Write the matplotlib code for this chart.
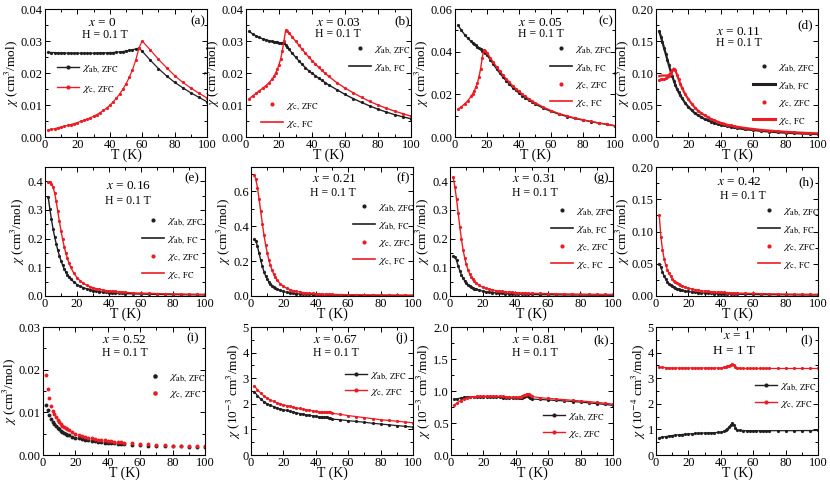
import matplotlib
matplotlib.use("Agg")
import matplotlib.pyplot as plt
from matplotlib.lines import Line2D
from matplotlib.ticker import MultipleLocator, FormatStrFormatter

plt.rcParams['font.family'] = ['Liberation Serif', 'DejaVu Serif']
plt.rcParams['mathtext.fontset'] = 'stix'

BLACK = '#231f20'
RED = '#ec1c24'

# ---- data (T in K) ----
T_a = [2, 4, 6, 8, 10, 12, 14, 16, 18, 20,
       22, 24, 26, 28, 30, 32, 34, 36, 38, 40,
       42, 44, 46, 48, 50, 52, 54, 56, 58, 60,
       65, 70, 75, 80, 85, 90, 95, 100]
chi_ab_a = [0.0265, 0.0264, 0.0264, 0.0263, 0.0263, 0.0263, 0.0262, 0.0262, 0.0262, 0.0262,
            0.0262, 0.0262, 0.0262, 0.0262, 0.0262, 0.0262, 0.0263, 0.0263, 0.0263, 0.0264,
            0.0264, 0.0265, 0.0266, 0.0267, 0.0269, 0.0271, 0.0273, 0.0275, 0.0278, 0.0268,
            0.0240, 0.0214, 0.0191, 0.0171, 0.0154, 0.0138, 0.0124, 0.0110]
chi_c_a = [0.0022, 0.0024, 0.0026, 0.0029, 0.0031, 0.0034, 0.0036, 0.0039, 0.0042, 0.0045,
           0.0049, 0.0052, 0.0056, 0.0060, 0.0065, 0.0070, 0.0076, 0.0083, 0.0090, 0.0099,
           0.0109, 0.0121, 0.0134, 0.0149, 0.0166, 0.0186, 0.0210, 0.0240, 0.0278, 0.0300,
           0.0272, 0.0243, 0.0217, 0.0192, 0.0171, 0.0153, 0.0137, 0.0122]

T_b = [2, 4, 6, 8, 10, 12, 14, 16,
       17, 18, 19, 20, 21, 22, 23, 24, 25, 26,
       28, 30, 32, 34, 36, 38, 40, 42, 44, 46, 48, 50,
       55, 60, 65, 70, 75, 80, 85, 90, 95, 100]
chi_ab_b = [0.0330, 0.0322, 0.0316, 0.0311, 0.0307, 0.0304, 0.0301, 0.0299,
            0.0298, 0.0297, 0.0296, 0.0295, 0.0294, 0.0294, 0.0293, 0.0288, 0.0281, 0.0274,
            0.0262, 0.0250, 0.0238, 0.0227, 0.0217, 0.0207, 0.0199, 0.0192, 0.0184, 0.0177, 0.0170, 0.0163,
            0.0148, 0.0133, 0.0120, 0.0108, 0.0097, 0.0087, 0.0078, 0.0070, 0.0063, 0.0057]
chi_c_b = [0.0120, 0.0128, 0.0136, 0.0144, 0.0152, 0.0160, 0.0170, 0.0182,
           0.0190, 0.0200, 0.0212, 0.0226, 0.0244, 0.0268, 0.0300, 0.0333, 0.0330, 0.0325,
           0.0313, 0.0300, 0.0287, 0.0274, 0.0262, 0.0250, 0.0239, 0.0228, 0.0218, 0.0208, 0.0199, 0.0190,
           0.0170, 0.0153, 0.0138, 0.0124, 0.0111, 0.0100, 0.0090, 0.0081, 0.0073, 0.0065]

T_c = [2, 4, 6, 8, 10,
       11, 12, 13, 14, 15, 16, 17, 18, 19, 20,
       22, 24, 26, 28, 30, 32, 34, 36, 38, 40, 42, 44, 46, 48, 50,
       55, 60, 65, 70, 75, 80, 85, 90, 95, 100]
chi_ab_c = [0.0523, 0.0500, 0.0480, 0.0463, 0.0448,
            0.0441, 0.0435, 0.0429, 0.0423, 0.0417, 0.0411, 0.0405, 0.0400, 0.0393, 0.0385,
            0.0362, 0.0340, 0.0319, 0.0299, 0.0280, 0.0263, 0.0247, 0.0232, 0.0219, 0.0206,
            0.0194, 0.0183, 0.0173, 0.0164, 0.0155,
            0.0136, 0.0120, 0.0107, 0.0096, 0.0087, 0.0079, 0.0072, 0.0065, 0.0059, 0.0052]
chi_c_c = [0.0130, 0.0142, 0.0155, 0.0170, 0.0190,
           0.0202, 0.0216, 0.0233, 0.0254, 0.0282, 0.0320, 0.0370, 0.0410, 0.0405, 0.0395,
           0.0372, 0.0350, 0.0329, 0.0309, 0.0290, 0.0273, 0.0257, 0.0241, 0.0227, 0.0214,
           0.0202, 0.0190, 0.0180, 0.0170, 0.0161,
           0.0141, 0.0124, 0.0110, 0.0099, 0.0089, 0.0081, 0.0073, 0.0066, 0.0060, 0.0053]

# shared temperature grid for panels (d)-(i)
T_low = [2, 3, 4, 5, 6, 7, 8, 9, 10, 11, 12, 13, 14, 15, 16,
         18, 20, 22, 24, 26, 28, 30, 32, 34, 36, 38, 40, 42, 44, 46, 48, 50,
         55, 60, 65, 70, 75, 80, 85, 90, 95, 100]
chi_ab_d = [0.165, 0.157, 0.148, 0.139, 0.130, 0.121, 0.112, 0.103, 0.095, 0.088, 0.081, 0.075, 0.070, 0.065, 0.061,
            0.053, 0.047, 0.042, 0.037, 0.034, 0.031, 0.028, 0.026, 0.024, 0.022, 0.020, 0.019, 0.018, 0.017, 0.016, 0.015, 0.014,
            0.012, 0.011, 0.0095, 0.0085, 0.0075, 0.0068, 0.0061, 0.0055, 0.0050, 0.0046]
chi_c_d = [0.089, 0.090, 0.091, 0.091, 0.092, 0.093, 0.095, 0.099, 0.104, 0.107, 0.104, 0.097, 0.090, 0.083, 0.077,
           0.067, 0.059, 0.052, 0.046, 0.041, 0.037, 0.034, 0.031, 0.028, 0.026, 0.024, 0.022, 0.021, 0.019, 0.018, 0.017, 0.016,
           0.014, 0.0125, 0.011, 0.010, 0.009, 0.0082, 0.0074, 0.0067, 0.0061, 0.0056]
chi_c_fc_d = [0.095, 0.096, 0.096, 0.096, 0.096, 0.096, 0.097, 0.100, 0.104, 0.107, 0.104, 0.097, 0.090, 0.083, 0.077,
              0.067, 0.059, 0.052, 0.046, 0.041, 0.037, 0.034, 0.031, 0.028, 0.026, 0.024, 0.022, 0.021, 0.019, 0.018, 0.017, 0.016,
              0.014, 0.0125, 0.011, 0.010, 0.009, 0.0082, 0.0074, 0.0067, 0.0061, 0.0056]
chi_ab_e = [0.345, 0.305, 0.268, 0.235, 0.207, 0.182, 0.160, 0.140, 0.123, 0.108, 0.095, 0.084, 0.075, 0.067, 0.060,
            0.049, 0.040, 0.034, 0.029, 0.025, 0.022, 0.019, 0.017, 0.015, 0.014, 0.013, 0.012, 0.011, 0.0100, 0.0095, 0.0090, 0.0085,
            0.0075, 0.0068, 0.0062, 0.0057, 0.0053, 0.0049, 0.0046, 0.0043, 0.0041, 0.0039]
chi_c_e = [0.398, 0.397, 0.392, 0.380, 0.360, 0.330, 0.295, 0.260, 0.228, 0.198, 0.172, 0.150, 0.131, 0.115, 0.101,
           0.080, 0.064, 0.053, 0.044, 0.038, 0.033, 0.029, 0.026, 0.023, 0.021, 0.019, 0.018, 0.017, 0.016, 0.015, 0.014, 0.013,
           0.011, 0.010, 0.0092, 0.0085, 0.0079, 0.0074, 0.0069, 0.0065, 0.0061, 0.0058]
chi_ab_f = [0.325, 0.315, 0.285, 0.245, 0.205, 0.170, 0.140, 0.116, 0.097, 0.082, 0.070, 0.060, 0.052, 0.045, 0.040,
            0.032, 0.026, 0.021, 0.018, 0.015, 0.013, 0.012, 0.010, 0.0095, 0.0088, 0.0082, 0.0076, 0.0071, 0.0067, 0.0063, 0.0060, 0.0057,
            0.0050, 0.0045, 0.0041, 0.0038, 0.0035, 0.0033, 0.0031, 0.0029, 0.0028, 0.0027]
chi_c_f = [0.695, 0.670, 0.620, 0.555, 0.485, 0.415, 0.350, 0.295, 0.248, 0.208, 0.175, 0.148, 0.126, 0.108, 0.093,
           0.071, 0.056, 0.045, 0.037, 0.031, 0.027, 0.023, 0.020, 0.018, 0.016, 0.015, 0.013, 0.012, 0.011, 0.011, 0.010, 0.0095,
           0.0085, 0.0075, 0.0070, 0.0065, 0.0060, 0.0055, 0.0052, 0.0050, 0.0048, 0.0045]
chi_ab_g = [0.138, 0.136, 0.124, 0.105, 0.088, 0.074, 0.062, 0.053, 0.046, 0.040, 0.036, 0.032, 0.029, 0.026, 0.024,
            0.020, 0.017, 0.015, 0.013, 0.012, 0.011, 0.010, 0.0092, 0.0085, 0.0079, 0.0074, 0.0070, 0.0066, 0.0062, 0.0059, 0.0056, 0.0054,
            0.0049, 0.0045, 0.0042, 0.0039, 0.0037, 0.0035, 0.0033, 0.0031, 0.0030, 0.0029]
chi_c_g = [0.414, 0.380, 0.338, 0.290, 0.242, 0.198, 0.162, 0.133, 0.110, 0.092, 0.078, 0.067, 0.058, 0.051, 0.045,
           0.037, 0.031, 0.027, 0.024, 0.021, 0.019, 0.017, 0.016, 0.015, 0.014, 0.013, 0.012, 0.0115, 0.011, 0.0105, 0.010, 0.0095,
           0.0088, 0.0082, 0.0077, 0.0072, 0.0068, 0.0064, 0.0061, 0.0058, 0.0055, 0.0053]
chi_ab_h = [0.050, 0.045, 0.037, 0.031, 0.026, 0.022, 0.019, 0.017, 0.015, 0.0135, 0.0122, 0.0110, 0.0102, 0.0095, 0.0088,
            0.0078, 0.0070, 0.0063, 0.0058, 0.0053, 0.0049, 0.0046, 0.0043, 0.0040, 0.0038, 0.0036, 0.0034, 0.0033, 0.0031, 0.0030, 0.0029, 0.0028,
            0.0026, 0.0024, 0.0022, 0.0021, 0.0020, 0.0019, 0.0018, 0.0017, 0.0017, 0.0016]
chi_c_h = [0.125, 0.092, 0.072, 0.058, 0.048, 0.041, 0.035, 0.031, 0.027, 0.024, 0.022, 0.020, 0.018, 0.017, 0.016,
           0.014, 0.012, 0.011, 0.0098, 0.0090, 0.0083, 0.0077, 0.0072, 0.0068, 0.0064, 0.0060, 0.0057, 0.0055, 0.0052, 0.0050, 0.0048, 0.0046,
           0.0042, 0.0039, 0.0036, 0.0034, 0.0032, 0.0030, 0.0029, 0.0027, 0.0026, 0.0025]
chi_ab_i = [0.0118, 0.0105, 0.0094, 0.0085, 0.0078, 0.0072, 0.0067, 0.0063, 0.0060, 0.0057, 0.0054, 0.0052, 0.0050, 0.0048, 0.0046,
            0.0043, 0.0041, 0.0039, 0.0037, 0.0035, 0.0034, 0.0033, 0.0032, 0.0031, 0.0030, 0.0029, 0.0028, 0.0028, 0.0027, 0.0026, 0.0026, 0.0025,
            0.0024, 0.0023, 0.0022, 0.0022, 0.0021, 0.0020, 0.0020, 0.0019, 0.0019, 0.0018]
chi_c_i = [0.0187, 0.0155, 0.0133, 0.0116, 0.0104, 0.0095, 0.0088, 0.0082, 0.0077, 0.0073, 0.0069, 0.0066, 0.0063, 0.0060, 0.0058,
           0.0054, 0.0050, 0.0047, 0.0045, 0.0043, 0.0041, 0.0039, 0.0038, 0.0036, 0.0035, 0.0034, 0.0033, 0.0032, 0.0031, 0.0031, 0.0030, 0.0029,
           0.0027, 0.0026, 0.0025, 0.0024, 0.0023, 0.0022, 0.0021, 0.0021, 0.0020, 0.0020]

# panels (j), (k): chi in 1e-3 cm3/mol
T_mid = [2, 4, 6, 8, 10, 12, 14, 16, 18, 20, 22, 24, 26, 28, 30, 32, 34, 36, 38, 40,
         42, 43, 44, 45, 46, 47, 48, 49, 50,
         55, 60, 65, 70, 75, 80, 85, 90, 95, 100]
chi_ab_j = [2.48, 2.32, 2.18, 2.08, 2.00, 1.94, 1.89, 1.84, 1.80, 1.77, 1.74, 1.71, 1.68, 1.65, 1.62, 1.60, 1.57, 1.55, 1.53, 1.51,
            1.49, 1.48, 1.48, 1.47, 1.47, 1.47, 1.46, 1.43, 1.40,
            1.38, 1.34, 1.31, 1.28, 1.24, 1.21, 1.18, 1.15, 1.12, 1.09]
chi_c_j = [2.70, 2.55, 2.42, 2.31, 2.22, 2.15, 2.09, 2.04, 2.00, 1.96, 1.93, 1.90, 1.87, 1.84, 1.82, 1.79, 1.77, 1.75, 1.73, 1.71,
           1.69, 1.68, 1.67, 1.67, 1.67, 1.68, 1.69, 1.68, 1.63,
           1.59, 1.54, 1.50, 1.46, 1.42, 1.38, 1.35, 1.32, 1.29, 1.26]
chi_ab_k = [0.870, 0.880, 0.890, 0.900, 0.905, 0.908, 0.910, 0.910, 0.910, 0.910, 0.908, 0.906, 0.904, 0.902, 0.900, 0.898, 0.895, 0.892, 0.888, 0.884,
            0.885, 0.890, 0.895, 0.905, 0.915, 0.920, 0.905, 0.885, 0.875,
            0.868, 0.860, 0.852, 0.845, 0.835, 0.826, 0.815, 0.803, 0.790, 0.775]
chi_c_k = [0.780, 0.820, 0.850, 0.875, 0.890, 0.900, 0.910, 0.915, 0.918, 0.920, 0.920, 0.920, 0.920, 0.918, 0.917, 0.915, 0.912, 0.910, 0.906, 0.902,
           0.905, 0.910, 0.918, 0.930, 0.945, 0.960, 0.955, 0.935, 0.915,
           0.895, 0.885, 0.875, 0.865, 0.855, 0.845, 0.835, 0.822, 0.810, 0.795]

# panel (l): chi in 1e-4 cm3/mol
T_l = [2, 4, 6, 8, 10, 12, 14, 16, 18, 20, 22, 24, 26, 28, 30, 32, 34, 36, 38, 40,
       42, 43, 44, 45, 46, 47, 48, 49, 50,
       52, 54, 56, 58, 60, 62, 64, 66, 68, 70,
       75, 80, 85, 90, 95, 100]
chi_ab_l = [0.68, 0.70, 0.72, 0.74, 0.76, 0.775, 0.79, 0.80, 0.81, 0.82, 0.83, 0.84, 0.85, 0.855, 0.86, 0.865, 0.87, 0.875, 0.88, 0.89,
            0.93, 0.97, 1.02, 1.09, 1.17, 1.24, 1.18, 1.07, 0.98,
            0.96, 0.955, 0.95, 0.95, 0.95, 0.95, 0.95, 0.95, 0.95, 0.95,
            0.95, 0.95, 0.95, 0.955, 0.955, 0.96]
chi_c_l = [3.43, 3.42, 3.41, 3.40, 3.40, 3.40, 3.40, 3.40, 3.40, 3.40, 3.40, 3.40, 3.40, 3.40, 3.40, 3.40, 3.40, 3.40, 3.40, 3.40,
           3.42, 3.44, 3.46, 3.49, 3.52, 3.54, 3.51, 3.45, 3.40,
           3.39, 3.38, 3.38, 3.38, 3.38, 3.38, 3.38, 3.38, 3.38, 3.38,
           3.38, 3.38, 3.38, 3.38, 3.38, 3.38]

x_labels = ['0', '0.03', '0.05', '0.11', '0.16', '0.21', '0.31', '0.42', '0.52', '0.67', '0.81', '1']
panel_tags = ['(a)', '(b)', '(c)', '(d)', '(e)', '(f)', '(g)', '(h)', '(i)', '(j)', '(k)', '(l)']

LAB_AB_Z = r'$\chi_{\rm ab,\ ZFC}$'
LAB_AB_F = r'$\chi_{\rm ab,\ FC}$'
LAB_C_Z = r'$\chi_{\rm c,\ ZFC}$'
LAB_C_F = r'$\chi_{\rm c,\ FC}$'

# ---- figure layout in pixels ----
W, H = 830, 484
fig = plt.figure(figsize=(W / 100, H / 100), dpi=100)


def add_ax(l, t, r, b):
    return fig.add_axes([l / W, 1 - b / H, (r - l) / W, (b - t) / H])


def style(ax, ymax, major, minor, fmt, ylabel):
    ax.set_xlim(0, 100)
    ax.set_ylim(0, ymax)
    ax.xaxis.set_major_locator(MultipleLocator(20))
    ax.xaxis.set_minor_locator(MultipleLocator(10))
    ax.yaxis.set_major_locator(MultipleLocator(major))
    ax.yaxis.set_minor_locator(MultipleLocator(minor))
    ax.yaxis.set_major_formatter(FormatStrFormatter(fmt))
    ax.tick_params(which='both', direction='in', top=True, right=True, labelsize=9, pad=1.5, width=0.7)
    ax.tick_params(which='major', length=3.5)
    ax.tick_params(which='minor', length=2)
    for s in ax.spines.values():
        s.set_linewidth(0.8)
    ax.set_xlabel('T (K)', fontsize=10, labelpad=-1.5)
    ax.set_ylabel(ylabel, fontsize=9.5, labelpad=0)


def txt(x, y, s, size=9.5, ha='left'):
    fig.text(x / W, 1 - y / H, s, fontsize=size, ha=ha, va='center')


def legend(ax, handles, labels, px, py, spacing=0.35):
    leg = ax.legend(handles, labels, loc='upper left', bbox_to_anchor=(px / W, 1 - (py - 8) / H),
                    bbox_transform=fig.transFigure, frameon=False, fontsize=8.5,
                    handlelength=1.9, handletextpad=0.25, labelspacing=spacing, borderpad=0, borderaxespad=0)
    return leg


def dots(ax, T, y, c, ms=2.3):
    ax.plot(T, y, 'o', color=c, ms=ms, mew=0)


def line(ax, T, y, c, lw=1.0):
    ax.plot(T, y, '-', color=c, lw=lw)


def dotline(ax, T, y, c):
    ax.plot(T, y, '-o', color=c, ms=2.3, mew=0, lw=0.9)


h_dot_k = Line2D([], [], ls='none', marker='o', color=BLACK, ms=3, mew=0)
h_dot_r = Line2D([], [], ls='none', marker='o', color=RED, ms=3, mew=0)
h_line_k = Line2D([], [], color=BLACK, lw=1.2)
h_line_r = Line2D([], [], color=RED, lw=1.2)
h_dl_k = Line2D([], [], color=BLACK, lw=1.0, marker='o', ms=3, mew=0)
h_dl_r = Line2D([], [], color=RED, lw=1.0, marker='o', ms=3, mew=0)

CM = r'$\chi$ (cm$^3$/mol)'
CM3 = r'$\chi$ (10$^{-3}$ cm$^3$/mol)'
CM4 = r'$\chi$ (10$^{-4}$ cm$^3$/mol)'

boxes = [(45, 9, 207, 137), (246, 9, 411, 137), (455, 9, 615, 137), (656, 9, 818, 137),
         (45, 167, 205, 296), (251, 167, 413, 296), (450, 167, 613, 296), (656, 167, 818, 296),
         (43, 327, 205, 455), (251, 327, 413, 455), (451, 327, 613, 455), (656, 327, 818, 455)]
axes = [add_ax(*b) for b in boxes]
ax_a, ax_b, ax_c, ax_d, ax_e, ax_f, ax_g, ax_h, ax_i, ax_j, ax_k, ax_l = axes

# (a)
dotline(ax_a, T_a, chi_ab_a, BLACK)
dotline(ax_a, T_a, chi_c_a, RED)
style(ax_a, 0.04, 0.01, 0.005, '%.2f', CM)
legend(ax_a, [h_dl_k, h_dl_r], [LAB_AB_Z, LAB_C_Z], 57, 70, 0.55)

# (b) - FC curves coincide with ZFC, drawn as lines under the dots
line(ax_b, T_b, chi_ab_b, BLACK)
dots(ax_b, T_b, chi_ab_b, BLACK)
line(ax_b, T_b, chi_c_b, RED)
dots(ax_b, T_b, chi_c_b, RED)
style(ax_b, 0.04, 0.01, 0.005, '%.2f', CM)
lb1 = legend(ax_b, [h_dot_k, h_line_k], [LAB_AB_Z, LAB_AB_F], 349, 51)
ax_b.add_artist(lb1)
legend(ax_b, [h_dot_r, h_line_r], [LAB_C_Z, LAB_C_F], 261, 107)

# (c)
line(ax_c, T_c, chi_ab_c, BLACK)
dots(ax_c, T_c, chi_ab_c, BLACK)
line(ax_c, T_c, chi_c_c, RED)
dots(ax_c, T_c, chi_c_c, RED)
style(ax_c, 0.06, 0.02, 0.01, '%.2f', CM)

# (d)
line(ax_d, T_low, chi_ab_d, BLACK, 1.6)
dots(ax_d, T_low, chi_ab_d, BLACK)
line(ax_d, T_low, chi_c_fc_d, RED, 1.6)
dots(ax_d, T_low, chi_c_d, RED)
style(ax_d, 0.20, 0.05, 0.025, '%.2f', CM)

# (e)-(h)
for ax, yab, yc, ymax, mj, mn, fmt in [(ax_e, chi_ab_e, chi_c_e, 0.45, 0.1, 0.05, '%.1f'),
                                        (ax_f, chi_ab_f, chi_c_f, 0.74, 0.2, 0.1, '%.1f'),
                                        (ax_g, chi_ab_g, chi_c_g, 0.45, 0.1, 0.05, '%.1f'),
                                        (ax_h, chi_ab_h, chi_c_h, 0.20, 0.05, 0.025, '%.2f')]:
    line(ax, T_low, yab, BLACK)
    dots(ax, T_low, yab, BLACK)
    line(ax, T_low, yc, RED)
    dots(ax, T_low, yc, RED)
    style(ax, ymax, mj, mn, fmt, CM)

four_h = [h_dot_k, h_line_k, h_dot_r, h_line_r]
four_l = [LAB_AB_Z, LAB_AB_F, LAB_C_Z, LAB_C_F]
legend(ax_c, four_h, four_l, 550, 51)
h_line_k_thick = Line2D([], [], color=BLACK, lw=2.2)
h_line_r_thick = Line2D([], [], color=RED, lw=2.2)
legend(ax_d, [h_dot_k, h_line_k_thick, h_dot_r, h_line_r_thick], four_l, 753, 69)
legend(ax_e, four_h, four_l, 142, 223)
legend(ax_f, four_h, four_l, 353, 209)
legend(ax_g, four_h, four_l, 551, 213)
legend(ax_h, four_h, four_l, 758, 213)

# (i)
dots(ax_i, T_low, chi_ab_i, BLACK, 2.8)
dots(ax_i, T_low, chi_c_i, RED, 2.8)
style(ax_i, 0.03, 0.01, 0.005, '%.2f', CM)
h_dot_k_i = Line2D([], [], ls='none', marker='o', color=BLACK, ms=3.3, mew=0)
h_dot_r_i = Line2D([], [], ls='none', marker='o', color=RED, ms=3.3, mew=0)
leg_i = legend(ax_i, [h_dot_k_i, h_dot_r_i], [LAB_AB_Z, LAB_C_Z], 144, 379, 0.25)
leg_i.handletextpad = 0.6

# (j)
dotline(ax_j, T_mid, chi_ab_j, BLACK)
dotline(ax_j, T_mid, chi_c_j, RED)
style(ax_j, 5, 1, 0.5, '%d', CM3)
legend(ax_j, [h_dl_k, h_dl_r], [LAB_AB_Z, LAB_C_Z], 345, 377, 0.2)

# (k)
dotline(ax_k, T_mid, chi_ab_k, BLACK)
dotline(ax_k, T_mid, chi_c_k, RED)
style(ax_k, 2.0, 0.5, 0.25, '%.1f', CM3)
legend(ax_k, [h_dl_k, h_dl_r], [LAB_AB_Z, LAB_C_Z], 543, 418, 0.3)

# (l)
dotline(ax_l, T_l, chi_ab_l, BLACK)
dotline(ax_l, T_l, chi_c_l, RED)
style(ax_l, 5, 1, 0.5, '%d', CM4)
legend(ax_l, [h_dl_k, h_dl_r], [LAB_AB_Z, LAB_C_Z], 755, 388, 0.3)

# ---- annotations: composition, field, panel tag ----
x_pos = [(88, 23), (316, 23), (518, 23), (716, 32), (106, 186), (312, 179), (512, 179), (717, 182),
         (102, 340), (313, 340), (512, 340), (723, 336)]
h_pos = [(82, 35), (315, 34), (518, 34), (716, 43), (105, 201), (310, 193), (512, 193), (720, 196),
         (102, 353), (313, 353), (512, 353), (713, 351)]
tag_pos = [(205, 21), (410, 21), (613, 21), (813, 25), (199, 178), (410, 178), (609, 178), (814, 182),
           (199, 338), (408, 338), (609, 340), (813, 340)]
for i in range(12):
    txt(*x_pos[i], r'$x$ = ' + x_labels[i], 9.5)
    if i == 11:
        txt(*h_pos[i], 'H = 1 T', 9.5)
    else:
        txt(*h_pos[i], 'H = 0.1 T', 8.5)
    txt(*tag_pos[i], panel_tags[i], 9.5, ha='right')

fig.savefig('out.png', dpi=100)
